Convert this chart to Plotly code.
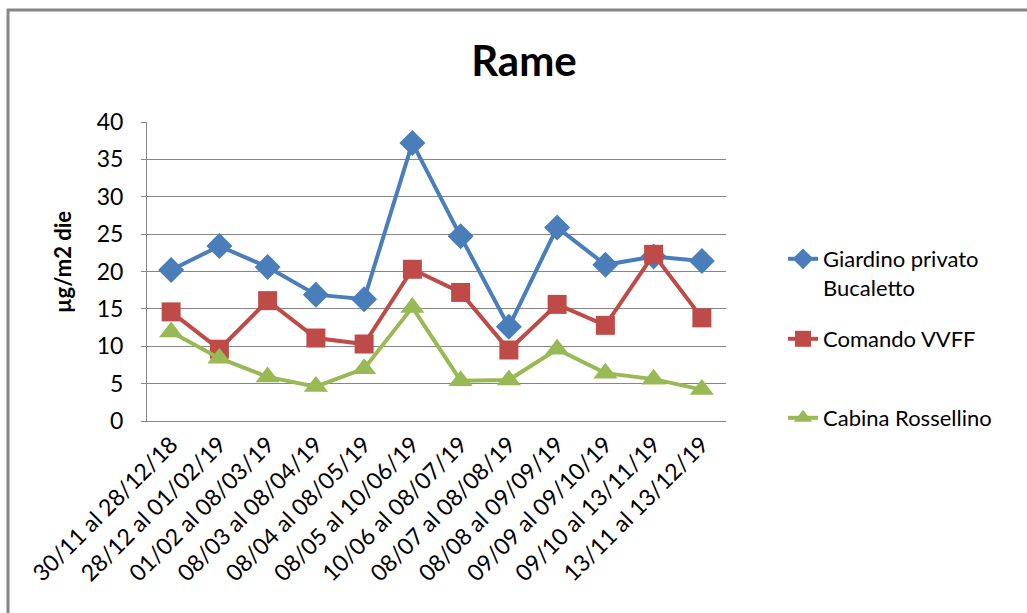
import plotly.graph_objects as go

categories = ["30/11 al 28/12/18", "28/12 al 01/02/19", "01/02 al 08/03/19",
              "08/03 al 08/04/19", "08/04 al 08/05/19", "08/05 al 10/06/19",
              "10/06 al 08/07/19", "08/07 al 08/08/19", "08/08 al 09/09/19",
              "09/09 al 09/10/19", "09/10 al 13/11/19", "13/11 al 13/12/19"]
giardino = [20.2, 23.4, 20.6, 16.9, 16.3, 37.2, 24.7, 12.6, 25.9, 20.9, 22.0, 21.4]
comando = [14.6, 9.6, 16.1, 11.1, 10.3, 20.3, 17.2, 9.5, 15.6, 12.8, 22.3, 13.8]
cabina = [11.9, 8.4, 5.9, 4.6, 7.0, 15.2, 5.4, 5.5, 9.6, 6.4, 5.6, 4.2]
y_ticks = [0, 5, 10, 15, 20, 25, 30, 35, 40]

W, H = 1027, 613
L, R, T, B = 147, 726, 122, 421
pw, ph = R - L, B - T

def px(x):
    return (x - L) / pw

def py(y):
    return (B - y) / ph

FONT = "Lato"
fig = go.Figure()
series = [
    ("Giardino privato<br>Bucaletto", giardino, "#4A7EBB", "diamond", 20, "legend"),
    ("Comando VVFF", comando, "#BE4B48", "square", 19, "legend2"),
    ("Cabina Rossellino", cabina, "#98B954", "triangle-up", 21, "legend3"),
]
for name, vals, col, sym, size, lg in series:
    fig.add_trace(go.Scatter(
        x=categories, y=vals, name=name, mode="lines+markers",
        line=dict(color=col, width=4),
        marker=dict(symbol=sym, size=size, color=col),
        legend=lg, showlegend=True,
    ))

leg_common = dict(xanchor="left", bgcolor="rgba(0,0,0,0)",
                  font=dict(family=FONT, size=22, color="#000000"), valign="top",
                  visible=True)
lx = px(783)

fig.update_layout(
    width=W, height=H, showlegend=True,
    margin=dict(l=L, r=W - R, t=T, b=H - B, autoexpand=False),
    paper_bgcolor="white", plot_bgcolor="white",
    font=dict(family=FONT, color="#000000"),
    title=dict(text="<b>Rame</b>", font=dict(family=FONT, size=42, color="#000000"),
               x=px(524), xref="paper", xanchor="center",
               y=1 - 61 / H, yref="container", yanchor="middle"),
    xaxis=dict(type="category", range=[-0.5, 11.5], tickangle=-45,
               tickfont=dict(family=FONT, size=23, color="#000000"),
               showgrid=False, showline=True, linecolor="#868686", linewidth=1,
               ticks="", zeroline=False, fixedrange=True),
    yaxis=dict(range=[0, 40], tickvals=y_ticks, ticktext=[str(v) for v in y_ticks],
               tickfont=dict(family=FONT, size=23, color="#000000"),
               showgrid=True, gridcolor="#868686", gridwidth=1,
               showline=True, linecolor="#868686", linewidth=1,
               ticks="outside", ticklen=5, tickcolor="#868686",
               ticklabelstandoff=13,
               zeroline=False, fixedrange=True),
    legend=dict(x=lx, y=py(238), yanchor="top", **leg_common),
    legend2=dict(x=lx, y=py(339), yanchor="middle", **leg_common),
    legend3=dict(x=lx, y=py(418), yanchor="middle", **leg_common),
    annotations=[dict(text="<b>µg/m2 die</b>", textangle=-90, x=px(62), y=py(262),
                      xref="paper", yref="paper", showarrow=False,
                      font=dict(family=FONT, size=22, color="#000000"),
                      xanchor="center", yanchor="middle")],
    shapes=[
        dict(type="line", xref="paper", yref="paper", x0=px(8), x1=px(8),
             y0=py(9), y1=py(620), line=dict(color="#868686", width=3)),
        dict(type="line", xref="paper", yref="paper", x0=px(7), x1=px(1030),
             y0=py(10), y1=py(10), line=dict(color="#868686", width=3)),
    ],
)

fig.write_html("out.html")
